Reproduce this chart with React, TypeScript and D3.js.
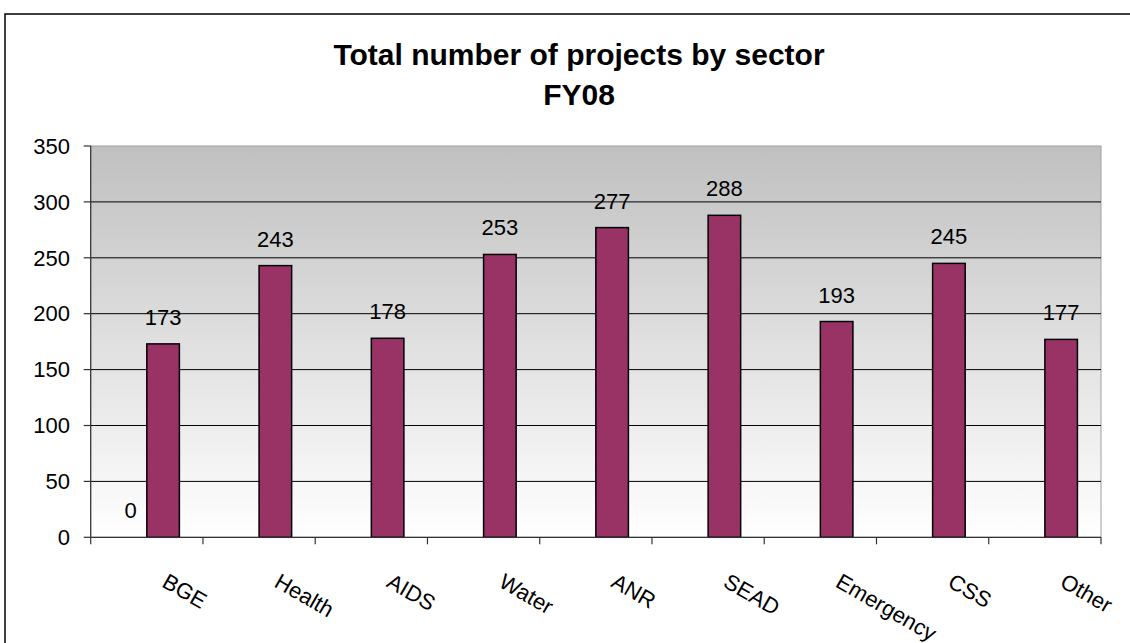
import React from "react";
import * as d3 from "d3";

const categories = ["BGE", "Health", "AIDS", "Water", "ANR", "SEAD", "Emergency", "CSS", "Other"];
const seriesA: (number | null)[] = [0, null, null, null, null, null, null, null, null];
const seriesB: number[] = [173, 243, 178, 253, 277, 288, 193, 245, 177];
const yTicks = [0, 50, 100, 150, 200, 250, 300, 350];
const titleLines = ["Total number of projects by sector", "FY08"];

const W = 1130;
const H = 643;
const plot = { left: 90.7, top: 146, right: 1101, bottom: 537.3 };
const FONT = "'Liberation Sans', Arial, sans-serif";
const FS = 22;

export default function App() {
  const x0 = d3.scaleBand<string>().domain(categories).range([plot.left, plot.right]).padding(0);
  const step = x0.step();
  const barW = step * 0.29;
  const x1 = d3.scaleBand<string>().domain(["a", "b"]).range([step / 2 - barW, step / 2 + barW]).padding(0);
  const y = d3.scaleLinear().domain([0, 350]).range([plot.bottom, plot.top]);

  const boundaries = d3.range(categories.length + 1).map((i) => plot.left + i * step);

  return (
    <svg width={W} height={H} style={{ position: "absolute", left: 0, top: 0 }} fontFamily={FONT}>
      <defs>
        <linearGradient id="bg" x1="0" y1="0" x2="0" y2="1">
          <stop offset="0" stopColor="#c0c0c0" />
          <stop offset="1" stopColor="#ffffff" />
        </linearGradient>
      </defs>
      <rect x={0} y={0} width={W} height={H} fill="#ffffff" />
      <rect x={5} y={14} width={1160} height={700} fill="none" stroke="#000" strokeWidth={1.5} />

      {/* title */}
      <text x={579} y={65} textAnchor="middle" fontWeight="bold" fontSize={30} fill="#000">
        {titleLines[0]}
      </text>
      <text x={579} y={105} textAnchor="middle" fontWeight="bold" fontSize={30} fill="#000">
        {titleLines[1]}
      </text>

      {/* plot background */}
      <rect
        x={plot.left}
        y={plot.top}
        width={plot.right - plot.left}
        height={plot.bottom - plot.top}
        fill="url(#bg)"
        stroke="#a0a0a0"
        strokeWidth={1}
      />

      {/* gridlines */}
      {yTicks
        .filter((t) => t > 0 && t < 350)
        .map((t) => (
          <line key={"g" + t} x1={plot.left} x2={plot.right} y1={y(t)} y2={y(t)} stroke="#000" strokeWidth={1} />
        ))}

      {/* y axis */}
      <line x1={plot.left} x2={plot.left} y1={plot.top} y2={plot.bottom} stroke="#333" strokeWidth={1.2} />
      {yTicks.map((t) => (
        <g key={"yt" + t}>
          <line x1={plot.left - 7} x2={plot.left} y1={y(t)} y2={y(t)} stroke="#333" strokeWidth={1.2} />
          <text x={70} y={y(t)} dy="0.35em" textAnchor="end" fontSize={FS} fill="#000">
            {t}
          </text>
        </g>
      ))}

      {/* bars series B */}
      {seriesB.map((v, i) => (
        <rect
          key={"b" + i}
          x={(x0(categories[i]) as number) + (x1("b") as number)}
          y={y(v)}
          width={x1.bandwidth()}
          height={y(0) - y(v)}
          fill="#993366"
          stroke="#000"
          strokeWidth={1.5}
        />
      ))}
      {/* bars series A */}
      {seriesA.map((v, i) =>
        v === null ? null : (
          <rect
            key={"a" + i}
            x={(x0(categories[i]) as number) + (x1("a") as number)}
            y={y(v)}
            width={x1.bandwidth()}
            height={y(0) - y(v)}
            fill="#333399"
            stroke="#000"
            strokeWidth={1.5}
          />
        )
      )}

      {/* x axis */}
      <line x1={plot.left} x2={plot.right} y1={plot.bottom} y2={plot.bottom} stroke="#333" strokeWidth={1.2} />
      {boundaries.map((bx, i) => (
        <line key={"xt" + i} x1={bx} x2={bx} y1={plot.bottom} y2={plot.bottom + 7} stroke="#333" strokeWidth={1.2} />
      ))}

      {/* data labels */}
      {seriesA.map((v, i) =>
        v === null ? null : (
          <text
            key={"la" + i}
            x={(x0(categories[i]) as number) + (x1("a") as number) + x1.bandwidth() / 2}
            y={y(v) - 19}
            textAnchor="middle"
            fontSize={FS}
            fill="#000"
          >
            {v}
          </text>
        )
      )}
      {seriesB.map((v, i) => (
        <text
          key={"lb" + i}
          x={(x0(categories[i]) as number) + (x1("b") as number) + x1.bandwidth() / 2}
          y={y(v) - 19}
          textAnchor="middle"
          fontSize={FS}
          fill="#000"
        >
          {v}
        </text>
      ))}

      {/* category labels */}
      {categories.map((c) => {
        const cx = (x0(c) as number) + step / 2 + 14;
        const cy = 586;
        return (
          <text key={"c" + c} x={cx} y={cy} transform={`rotate(30 ${cx} ${cy})`} fontSize={FS} fill="#000">
            {c}
          </text>
        );
      })}
    </svg>
  );
}
